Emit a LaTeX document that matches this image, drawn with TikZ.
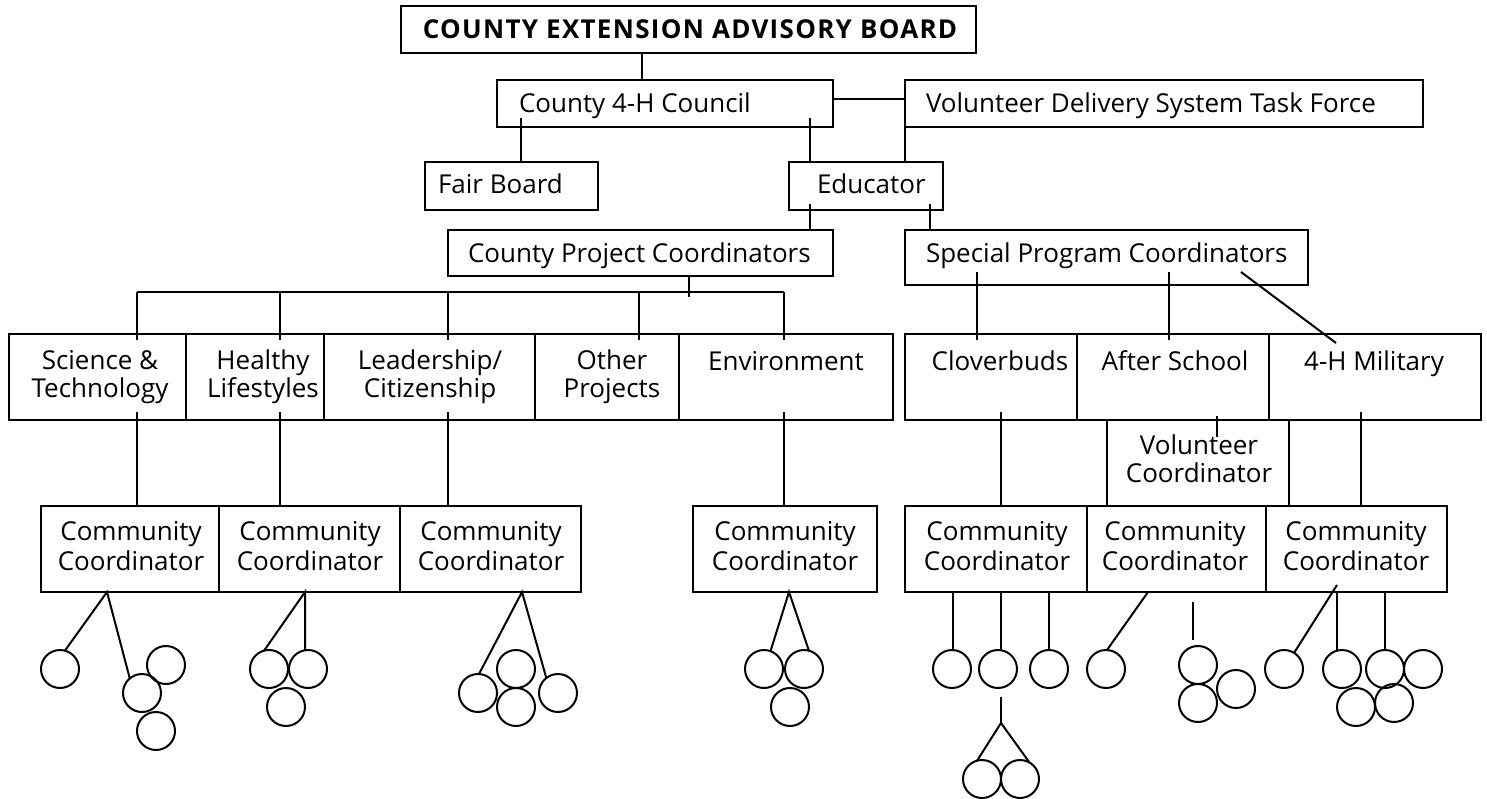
\documentclass[tikz,border=0pt]{standalone}
\usepackage{fontspec}
\setmainfont{Open Sans}
\newcommand{\mybox}[5]{\node[box,minimum width={#4-#2},minimum height={#5-#3}] (#1) at ({(#2+#4)/2},{(#3+#5)/2}) {};}
\begin{document}
\begin{tikzpicture}[x=1pt,y=-1pt,line width=2pt,
  box/.style={draw,inner sep=0pt,outer sep=0pt},
  lbl/.style={inner sep=0pt,anchor=base,align=center,font=\fontsize{26}{27.5}\selectfont},
  lblc/.style={lbl,font=\fontsize{26}{30}\selectfont},
  lblb/.style={lbl,font=\bfseries\fontsize{26}{28}\selectfont\addfontfeature{LetterSpace=5}},
  dot/.style={draw,circle,minimum size=38pt,inner sep=0pt,outer sep=0pt}]
\useasboundingbox (0,0) rectangle (1487,799);
% boxes
\mybox{top}{401}{6}{976}{53}
\mybox{council}{497}{80}{833}{127}
\mybox{vol}{905}{80}{1423}{127}
\mybox{fair}{425}{162}{598}{210}
\mybox{edu}{789}{162}{943}{210}
\mybox{cpc}{448}{230}{833}{276}
\mybox{spc}{905}{230}{1308}{285}
\mybox{sci}{9}{334}{186}{420}
\mybox{hea}{186}{334}{324}{420}
\mybox{lea}{324}{334}{535}{420}
\mybox{oth}{535}{334}{679}{420}
\mybox{env}{679}{334}{893}{420}
\mybox{clo}{905}{334}{1077}{420}
\mybox{aft}{1077}{334}{1269}{420}
\mybox{mil}{1269}{334}{1481}{420}
\mybox{vc}{1107}{420}{1289}{506}
\mybox{cc1}{41}{506}{219}{592}
\mybox{cc2}{219}{506}{400}{592}
\mybox{cc3}{400}{506}{581}{592}
\mybox{cc4}{693}{506}{877}{592}
\mybox{cc5}{905}{506}{1087}{592}
\mybox{cc6}{1087}{506}{1266}{592}
\mybox{cc7}{1266}{506}{1447}{592}
% labels
\node[lblb] (t-top) at (690,39) {COUNTY EXTENSION ADVISORY BOARD};
\node[lbl,anchor=base west] (t-council) at (518,113) {County 4-H Council};
\node[lbl,anchor=base west] (t-vol) at (925,113) {Volunteer Delivery System Task Force};
\node[lbl,anchor=base west] (t-fair) at (437,194) {Fair Board};
\node[lbl,anchor=base west] (t-edu) at (816,194) {Educator};
\node[lbl,anchor=base west] (t-cpc) at (467,263) {County Project Coordinators};
\node[lbl,anchor=base west] (t-spc) at (925,263) {Special Program Coordinators};
\node[lbl] (t-sci) at (100,397) {Science \&\\Technology};
\node[lbl] (t-hea) at (263,397) {Healthy\\Lifestyles};
\node[lbl] (t-lea) at (430,397) {Leadership/\\Citizenship};
\node[lbl] (t-oth) at (612,397) {Other\\Projects};
\node[lbl] (t-env) at (786,370) {Environment};
\node[lbl] (t-clo) at (1000,370) {Cloverbuds};
\node[lbl] (t-aft) at (1175,370) {After School};
\node[lbl] (t-mil) at (1374,370) {4-H Military};
\node[lbl] (t-vc) at (1199,482) {Volunteer\\Coordinator};
\node[lblc] (t-cc1) at (131,570) {Community\\Coordinator};
\node[lblc] (t-cc2) at (310,570) {Community\\Coordinator};
\node[lblc] (t-cc3) at (491,570) {Community\\Coordinator};
\node[lblc] (t-cc4) at (785,570) {Community\\Coordinator};
\node[lblc] (t-cc5) at (997,570) {Community\\Coordinator};
\node[lblc] (t-cc6) at (1175,570) {Community\\Coordinator};
\node[lblc] (t-cc7) at (1356,570) {Community\\Coordinator};
% upper connectors
\draw (top.south -| 642,0) -- (council.north -| 642,0);
\draw (council.east |- 0,99) -- (vol.west |- 0,99);
\draw (521,118) -- (fair.north -| 521,0);
\draw (810,118) -- (edu.north -| 810,0);
\draw (vol.south west) -- (edu.north -| vol.west);
\draw (810,204) -- (cpc.north -| 810,0);
\draw (930,204) -- (spc.north -| 930,0);
\draw (cpc.south -| 689,0) -- (689,297);
\draw (137,292) -- (784,292);
\foreach \x in {137,280,447.5,639,784} \draw (\x,292) -- (\x,340);
\draw (977,272) -- (977,340);
\draw (1169,272) -- (1169,340);
\draw (1241,272) -- (1336,343);
% project to community
\draw (137,412) -- (cc1.north -| 137,0);
\draw (280,412) -- (cc2.north -| 280,0);
\draw (447.5,412) -- (cc3.north -| 447.5,0);
\draw (784,412) -- (cc4.north -| 784,0);
\draw (1001,412) -- (cc5.north -| 1001,0);
\draw (1361,412) -- (cc7.north -| 1361,0);
\draw (1217,416) -- (1217,437);
% circles
\node[dot] (a1) at (60,669) {};
\node[dot] (a2) at (166,665) {};
\node[dot] (a3) at (142,693) {};
\node[dot] (a4) at (156,731) {};
\node[dot] (b1) at (269,669) {};
\node[dot] (b2) at (308,669) {};
\node[dot] (b3) at (286,707) {};
\node[dot] (c1) at (478,693) {};
\node[dot] (c2) at (516,669) {};
\node[dot] (c3) at (516,707) {};
\node[dot] (c4) at (558,693) {};
\node[dot] (d1) at (764,669) {};
\node[dot] (d2) at (804,669) {};
\node[dot] (d3) at (790,707) {};
\node[dot] (e1) at (952,669) {};
\node[dot] (e2) at (998,669) {};
\node[dot] (e3) at (1049,669) {};
\node[dot] (e4) at (982,779) {};
\node[dot] (e5) at (1020,779) {};
\node[dot] (f1) at (1106,669) {};
\node[dot] (f2) at (1198,665) {};
\node[dot] (f3) at (1236,689) {};
\node[dot] (f4) at (1198,703) {};
\node[dot] (g1) at (1284,669) {};
\node[dot] (g2) at (1342,669) {};
\node[dot] (g3) at (1385,669) {};
\node[dot] (g4) at (1423,669) {};
\node[dot] (g5) at (1356,707) {};
\node[dot] (g6) at (1394,703) {};
% circle connectors
\draw (a1.75) -- (cc1.south -| 107,0) -- (a3.130);
\draw (b1.105) -- (cc2.south -| 305,0) -- (b2.99);
\draw (c1.87) -- (cc3.south -| 522,0) -- (c4.128);
\draw (d1.70) -- (cc4.south -| 789,0) -- (d2.75);
\draw (cc5.south -| 953,0) -- (e1.north -| 953,0);
\draw (cc5.south -| 1001,0) -- (1001,650.5);
\draw (cc5.south -| 1049,0) -- (e3.north);
\coordinate (ej) at (1001,723);
\draw (1001,697) -- (ej);
\draw (e4.105) -- (ej) -- (e5.60);
\draw (cc6.south -| 1148,0) -- (f1.87);
\draw (1193,602) -- (1193,640);
\draw (1337,585) -- (g1.58);
\draw (cc7.south -| 1337,0) -- (1337,650.5);
\draw (cc7.south -| 1385,0) -- (g3.north);
\end{tikzpicture}
\end{document}
